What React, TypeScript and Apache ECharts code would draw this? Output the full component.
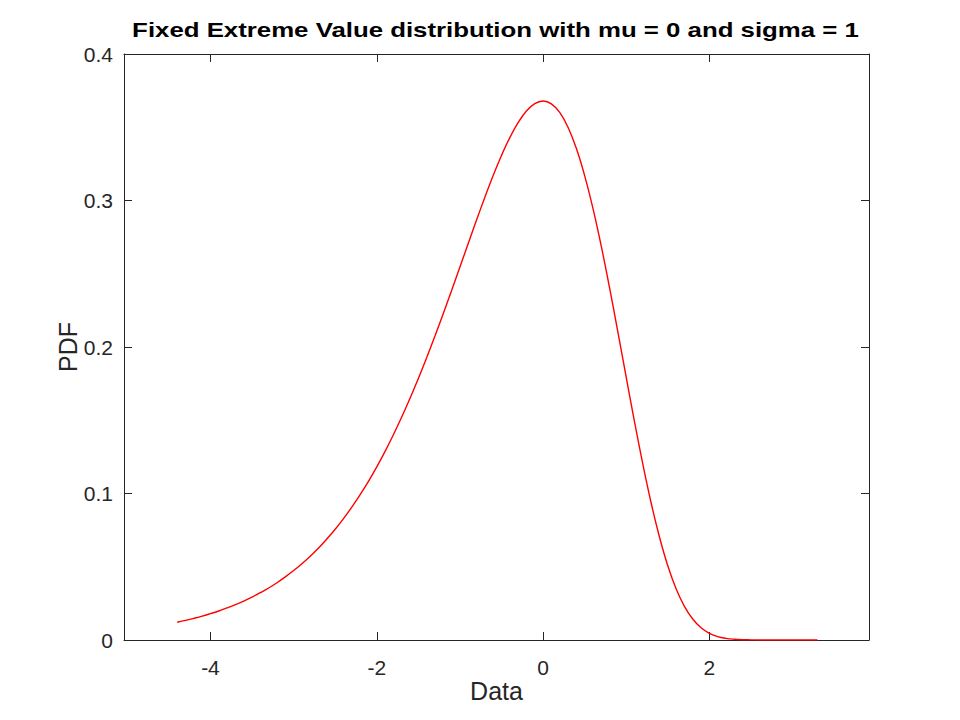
import { useEffect, useRef } from 'react';
import * as echarts from 'echarts';

// x samples of the curve
const dataX = [
  -4.4, -4.3, -4.2, -4.1, -4.0, -3.9, -3.8, -3.7, -3.6, -3.5,
  -3.4, -3.3, -3.2, -3.1, -3.0, -2.9, -2.8, -2.7, -2.6, -2.5,
  -2.4, -2.3, -2.2, -2.1, -2.0, -1.9, -1.8, -1.7, -1.6, -1.5,
  -1.4, -1.3, -1.2, -1.1, -1.0, -0.9, -0.8, -0.7, -0.6, -0.5,
  -0.4, -0.3, -0.2, -0.1, 0.0, 0.1, 0.2, 0.3, 0.4, 0.5,
  0.6, 0.7, 0.8, 0.9, 1.0, 1.1, 1.2, 1.3, 1.4, 1.5,
  1.6, 1.7, 1.8, 1.9, 2.0, 2.1, 2.2, 2.3, 2.4, 2.5,
  2.6, 2.7, 2.8, 2.9, 3.0, 3.1, 3.2, 3.3,
];

// PDF values
const pdf = [
  0.0121, 0.0134, 0.0148, 0.0163, 0.0180, 0.0198, 0.0219, 0.0241, 0.0266, 0.0293,
  0.0323, 0.0355, 0.0391, 0.0431, 0.0474, 0.0521, 0.0572, 0.0628, 0.0690, 0.0756,
  0.0829, 0.0907, 0.0992, 0.1083, 0.1182, 0.1288, 0.1401, 0.1522, 0.1650, 0.1785,
  0.1927, 0.2075, 0.2229, 0.2386, 0.2546, 0.2707, 0.2867, 0.3022, 0.3171, 0.3307,
  0.3429, 0.3532, 0.3611, 0.3661, 0.3679, 0.3660, 0.3601, 0.3500, 0.3356, 0.3170,
  0.2946, 0.2688, 0.2404, 0.2102, 0.1794, 0.1489, 0.1200, 0.0935, 0.0703, 0.0507,
  0.0350, 0.0230, 0.0143, 0.0083, 0.0046, 0.0023, 0.0011, 0.0005, 0.0002, 0.0001,
  0.0, 0.0, 0.0, 0.0, 0.0, 0.0, 0.0, 0.0,
];

const xTicks = [-4, -2, 0, 2];
const xLimits = [-5.04, 3.92];
const yLimits = [0, 0.4];

const FONT = '"Liberation Sans", Arial, Helvetica, sans-serif';
const AXIS_COLOR = '#262626';

export default function App() {
  const chartRef = useRef<HTMLDivElement>(null);

  useEffect(() => {
    if (!chartRef.current) return;
    const chart = echarts.init(chartRef.current, null, { renderer: 'svg' });

    const axisLine = { show: true, onZero: false, lineStyle: { color: AXIS_COLOR, width: 1 } };

    chart.setOption({
      animation: false,
      backgroundColor: '#ffffff',
      // title drawn as graphic text so it can be widened like the original
      graphic: [
        {
          type: 'text',
          x: 495.5,
          y: 20,
          scaleX: 1.29,
          style: {
            text: 'Fixed Extreme Value distribution with mu = 0 and sigma = 1',
            fontFamily: FONT,
            fontSize: 20,
            fontWeight: 'bold',
            fill: '#000000',
            textAlign: 'center',
            textVerticalAlign: 'top',
          },
        },
      ],
      grid: { left: 124, right: 91, top: 54, bottom: 80, containLabel: false, outerBoundsMode: 'none' },
      xAxis: [
        {
          type: 'value',
          position: 'bottom',
          min: xLimits[0],
          max: xLimits[1],
          axisLine,
          axisTick: { show: true, inside: true, length: 8, customValues: xTicks, lineStyle: { color: AXIS_COLOR } },
          axisLabel: { customValues: xTicks, fontFamily: FONT, fontSize: 21, color: AXIS_COLOR, margin: 17 },
          splitLine: { show: false },
          name: 'Data',
          nameLocation: 'middle',
          nameGap: 38,
          nameMoveOverlap: false,
          nameTextStyle: { fontFamily: FONT, fontSize: 25, color: AXIS_COLOR },
        },
        {
          type: 'value',
          position: 'top',
          min: xLimits[0],
          max: xLimits[1],
          axisLine,
          axisTick: { show: true, inside: true, length: 8, customValues: xTicks, lineStyle: { color: AXIS_COLOR } },
          axisLabel: { show: false },
          splitLine: { show: false },
        },
      ],
      yAxis: [
        {
          type: 'value',
          position: 'left',
          min: yLimits[0],
          max: yLimits[1],
          interval: 0.1,
          axisLine,
          axisTick: { show: true, inside: true, length: 8, lineStyle: { color: AXIS_COLOR } },
          axisLabel: { fontFamily: FONT, fontSize: 21, color: AXIS_COLOR, margin: 11 },
          splitLine: { show: false },
          name: 'PDF',
          nameLocation: 'middle',
          nameGap: 44,
          nameMoveOverlap: false,
          nameTextStyle: { fontFamily: FONT, fontSize: 25, color: AXIS_COLOR },
        },
        {
          type: 'value',
          position: 'right',
          min: yLimits[0],
          max: yLimits[1],
          interval: 0.1,
          axisLine,
          axisTick: { show: true, inside: true, length: 8, lineStyle: { color: AXIS_COLOR } },
          axisLabel: { show: false },
          splitLine: { show: false },
        },
      ],
      series: [
        {
          type: 'line',
          xAxisIndex: 0,
          yAxisIndex: 0,
          data: dataX.map((x, i) => [x, pdf[i]]),
          showSymbol: false,
          smooth: 0.4,
          lineStyle: { color: '#ff0000', width: 1.4 },
        },
      ],
    });

    return () => {
      chart.dispose();
    };
  }, []);

  return (
    <div
      ref={chartRef}
      style={{ position: 'absolute', left: 0, top: 0, width: 960, height: 720 }}
    />
  );
}
